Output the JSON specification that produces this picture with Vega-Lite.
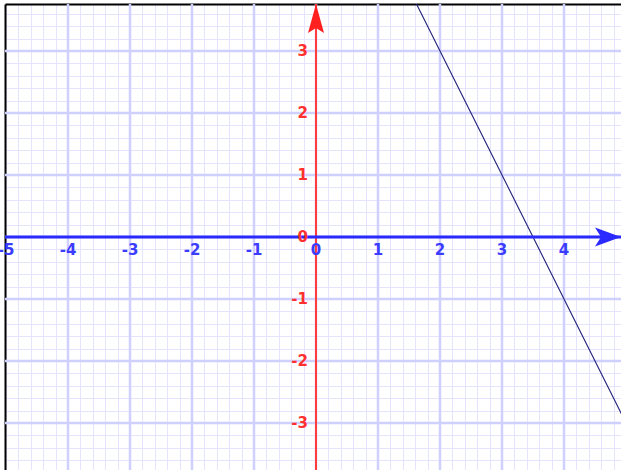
{
  "$schema": "https://vega.github.io/schema/vega-lite/v6.json",
  "width": 616,
  "height": 466,
  "autosize": "none",
  "padding": {"left": 5, "top": 4, "right": 0, "bottom": 0},
  "background": "white",
  "config": {"view": {"stroke": null}, "axis": {"minExtent": 0}},
  "resolve": {"axis": {"x": "independent", "y": "independent"}},
  "datasets": {
    "xticks": [{"v": -5}, {"v": -4}, {"v": -3}, {"v": -2}, {"v": -1}, {"v": 0}, {"v": 1}, {"v": 2}, {"v": 3}, {"v": 4}],
    "xmajor": [{"v": -4}, {"v": -3}, {"v": -2}, {"v": -1}, {"v": 0}, {"v": 1}, {"v": 2}, {"v": 3}, {"v": 4}],
    "yticks": [{"v": -3}, {"v": -2}, {"v": -1}, {"v": 0}, {"v": 1}, {"v": 2}, {"v": 3}],
    "line": [{"x": 1.5, "y": 4}, {"x": 5, "y": -3}],
    "one": [{"x": 0, "y": 0}]
  },
  "layer": [
    {
      "data": {"name": "xmajor"},
      "mark": {"type": "rule", "color": "#d0d0ff", "strokeWidth": 2.5},
      "encoding": {
        "x": {
          "field": "v", "type": "quantitative",
          "scale": {"domain": [-5.0161, 4.9194], "nice": false, "zero": false},
          "axis": {
            "orient": "top", "title": null, "labels": false, "ticks": false,
            "domain": true, "domainColor": "black", "domainWidth": 2,
            "grid": true, "gridColor": "#e4e4ff", "gridWidth": 1,
            "values": [-5,-4.8,-4.6,-4.4,-4.2,-4,-3.8,-3.6,-3.4,-3.2,-3,-2.8,-2.6,-2.4,-2.2,-2,-1.8,-1.6,-1.4,-1.2,-1,-0.8,-0.6,-0.4,-0.2,0,0.2,0.4,0.6,0.8,1,1.2,1.4,1.6,1.8,2,2.2,2.4,2.6,2.8,3,3.2,3.4,3.6,3.8,4,4.2,4.4,4.6,4.8]
          }
        }
      }
    },
    {
      "data": {"name": "yticks"},
      "mark": {"type": "rule", "color": "#d0d0ff", "strokeWidth": 2.5},
      "encoding": {
        "y": {
          "field": "v", "type": "quantitative",
          "scale": {"domain": [-3.7581, 3.7581], "nice": false, "zero": false},
          "axis": {
            "orient": "left", "title": null, "labels": false, "ticks": false,
            "domain": true, "domainColor": "black", "domainWidth": 2,
            "grid": true, "gridColor": "#e4e4ff", "gridWidth": 1,
            "values": [-3.6,-3.4,-3.2,-3,-2.8,-2.6,-2.4,-2.2,-2,-1.8,-1.6,-1.4,-1.2,-1,-0.8,-0.6,-0.4,-0.2,0,0.2,0.4,0.6,0.8,1,1.2,1.4,1.6,1.8,2,2.2,2.4,2.6,2.8,3,3.2,3.4,3.6]
          }
        }
      }
    },
    {
      "data": {"name": "line"},
      "mark": {"type": "line", "color": "#22227a", "strokeWidth": 1.1, "clip": true},
      "encoding": {
        "x": {"field": "x", "type": "quantitative", "scale": {"domain": [-5.0161, 4.9194], "nice": false, "zero": false}, "axis": null},
        "y": {"field": "y", "type": "quantitative", "scale": {"domain": [-3.7581, 3.7581], "nice": false, "zero": false}, "axis": null}
      }
    },
    {
      "data": {"name": "one"},
      "mark": {"type": "rule", "color": "#ff3c3c", "strokeWidth": 2},
      "encoding": {
        "x": {"field": "x", "type": "quantitative", "scale": {"domain": [-5.0161, 4.9194], "nice": false, "zero": false}, "axis": null}
      }
    },
    {
      "data": {"name": "one"},
      "mark": {"type": "rule", "color": "#2a2aff", "strokeWidth": 3},
      "encoding": {
        "y": {"field": "y", "type": "quantitative", "scale": {"domain": [-3.7581, 3.7581], "nice": false, "zero": false}, "axis": null}
      }
    },
    {
      "data": {"name": "one"},
      "mark": {"type": "point", "shape": "M0,0 L8,29 L0,24 L-8,29 Z", "size": 4, "filled": true, "color": "#ff2020", "opacity": 1, "strokeWidth": 0},
      "encoding": {
        "x": {"field": "x", "type": "quantitative", "scale": {"domain": [-5.0161, 4.9194], "nice": false, "zero": false}, "axis": null},
        "y": {"datum": 3.7581, "type": "quantitative", "scale": {"domain": [-3.7581, 3.7581], "nice": false, "zero": false}, "axis": null}
      }
    },
    {
      "data": {"name": "one"},
      "mark": {"type": "point", "shape": "M0,0 L-26,-9.5 L-20,0 L-26,9.5 Z", "size": 4, "filled": true, "color": "#2a2aff", "opacity": 1, "strokeWidth": 0},
      "encoding": {
        "x": {"datum": 4.9194, "type": "quantitative", "scale": {"domain": [-5.0161, 4.9194], "nice": false, "zero": false}, "axis": null},
        "y": {"field": "y", "type": "quantitative", "scale": {"domain": [-3.7581, 3.7581], "nice": false, "zero": false}, "axis": null}
      }
    },
    {
      "data": {"name": "xticks"},
      "mark": {"type": "text", "color": "#3c3cff", "font": "DejaVu Sans", "fontWeight": "bold", "fontSize": 15, "baseline": "top", "align": "center", "dy": 6},
      "encoding": {
        "x": {"field": "v", "type": "quantitative", "scale": {"domain": [-5.0161, 4.9194], "nice": false, "zero": false}, "axis": null},
        "y": {"datum": 0, "type": "quantitative", "scale": {"domain": [-3.7581, 3.7581], "nice": false, "zero": false}, "axis": null},
        "text": {"field": "v", "type": "nominal"}
      }
    },
    {
      "data": {"name": "yticks"},
      "mark": {"type": "text", "color": "#ff3030", "font": "DejaVu Sans", "fontWeight": "bold", "fontSize": 15, "baseline": "middle", "align": "right", "dx": -8},
      "encoding": {
        "x": {"datum": 0, "type": "quantitative", "scale": {"domain": [-5.0161, 4.9194], "nice": false, "zero": false}, "axis": null},
        "y": {"field": "v", "type": "quantitative", "scale": {"domain": [-3.7581, 3.7581], "nice": false, "zero": false}, "axis": null},
        "text": {"field": "v", "type": "nominal"}
      }
    }
  ]
}
